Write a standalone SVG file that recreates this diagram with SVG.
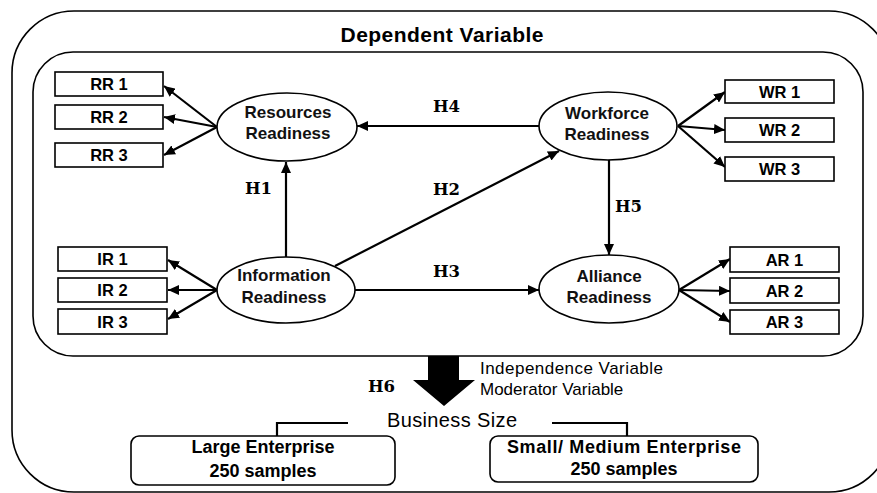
<svg xmlns="http://www.w3.org/2000/svg" width="877" height="493" viewBox="0 0 877 493">
<defs>
<marker id="ah" markerUnits="userSpaceOnUse" markerWidth="12" markerHeight="10" refX="11" refY="5" orient="auto">
<path d="M0,0 L11,5 L0,10 Z" fill="#000"/>
</marker>
<style>
.frame{fill:none;stroke:#000;stroke-width:1.6}
.box{fill:#fff;stroke:#000;stroke-width:1.6}
.ell{fill:#fff;stroke:#000;stroke-width:1.6}
.con{stroke:#000;stroke-width:2.2;fill:none}
.arr{marker-end:url(#ah)}
.bt{font-family:"Liberation Sans",Arial,sans-serif;font-weight:bold;font-size:16.5px;fill:#000;text-anchor:middle}
.et{font-family:"Liberation Sans",Arial,sans-serif;font-weight:bold;font-size:17px;fill:#111;text-anchor:middle}
.h{font-family:"DejaVu Serif",serif;font-weight:bold;font-size:16.5px;fill:#000}
.rt{font-family:"Liberation Sans",Arial,sans-serif;font-size:17px;fill:#000}
.lt{font-family:"Liberation Sans",Arial,sans-serif;font-weight:bold;font-size:18px;fill:#000;text-anchor:middle}
</style>
</defs>
<rect class="frame" x="12" y="11" width="879" height="481" rx="62"/>
<rect class="frame" x="33" y="52" width="830" height="304" rx="40"/>
<text x="442" y="42" font-family="Liberation Sans,Arial,sans-serif" font-weight="bold" font-size="21" text-anchor="middle" textLength="203">Dependent Variable</text>

<g id="connectors">
<line class="con arr" x1="217" y1="127" x2="164" y2="86"/>
<line class="con arr" x1="217" y1="127" x2="164" y2="117"/>
<line class="con arr" x1="217" y1="127" x2="164" y2="155"/>
<line class="con arr" x1="217" y1="290" x2="168" y2="260"/>
<line class="con arr" x1="217" y1="290" x2="168" y2="290"/>
<line class="con arr" x1="217" y1="290" x2="168" y2="319"/>
<line class="con arr" x1="678" y1="126" x2="725" y2="92"/>
<line class="con arr" x1="678" y1="126" x2="725" y2="130"/>
<line class="con arr" x1="678" y1="126" x2="725" y2="167"/>
<line class="con arr" x1="679" y1="290" x2="730" y2="259"/>
<line class="con arr" x1="679" y1="290" x2="730" y2="291"/>
<line class="con arr" x1="679" y1="290" x2="730" y2="322"/>
<line class="con arr" x1="539" y1="126" x2="357" y2="126"/>
<line class="con arr" x1="286" y1="257" x2="286" y2="162"/>
<line class="con arr" x1="335" y1="266" x2="559" y2="151"/>
<line class="con arr" x1="355" y1="290" x2="539" y2="290"/>
<line class="con arr" x1="609" y1="159" x2="609" y2="255"/>
<polygon points="428,356 459,356 459,380 475,380 444,406 413,380 428,380" fill="#000"/>
<polyline class="con" points="348,423 277,423 277,436"/>
<polyline class="con" points="552,423 627,423 627,436"/>
</g>

<g id="rr1"><rect class="box" x="55" y="72" width="108" height="24"/><text class="bt" x="109" y="90">RR 1</text></g>
<g id="rr2"><rect class="box" x="55" y="105" width="108" height="24"/><text class="bt" x="109" y="123">RR 2</text></g>
<g id="rr3"><rect class="box" x="55" y="143" width="108" height="24"/><text class="bt" x="109" y="161">RR 3</text></g>

<g id="ir1"><rect class="box" x="58" y="247" width="109" height="24"/><text class="bt" x="112.5" y="265">IR 1</text></g>
<g id="ir2"><rect class="box" x="58" y="278" width="109" height="24"/><text class="bt" x="112.5" y="296">IR 2</text></g>
<g id="ir3"><rect class="box" x="58" y="309" width="109" height="25"/><text class="bt" x="112.5" y="327.5">IR 3</text></g>

<g id="wr1"><rect class="box" x="725" y="80" width="109" height="23"/><text class="bt" x="779.5" y="97.5">WR 1</text></g>
<g id="wr2"><rect class="box" x="725" y="118" width="109" height="24"/><text class="bt" x="779.5" y="136">WR 2</text></g>
<g id="wr3"><rect class="box" x="725" y="157" width="109" height="24"/><text class="bt" x="779.5" y="175">WR 3</text></g>

<g id="ar1"><rect class="box" x="730" y="247" width="109" height="25"/><text class="bt" x="784.5" y="265.5">AR 1</text></g>
<g id="ar2"><rect class="box" x="730" y="278" width="109" height="25"/><text class="bt" x="784.5" y="296.5">AR 2</text></g>
<g id="ar3"><rect class="box" x="730" y="310" width="109" height="24"/><text class="bt" x="784.5" y="328">AR 3</text></g>

<g id="resources"><ellipse class="ell" cx="287" cy="127" rx="70" ry="34"/><text class="et" x="288" y="118">Resources</text><text class="et" x="288" y="139">Readiness</text></g>
<g id="workforce"><ellipse class="ell" cx="608" cy="126" rx="69" ry="34"/><text class="et" x="607" y="119">Workforce</text><text class="et" x="607" y="140">Readiness</text></g>
<g id="information"><ellipse class="ell" cx="286" cy="290" rx="69" ry="33"/><text class="et" x="284" y="281">Information</text><text class="et" x="284" y="303">Readiness</text></g>
<g id="alliance"><ellipse class="ell" cx="609" cy="289" rx="70" ry="34"/><text class="et" x="609" y="282">Alliance</text><text class="et" x="609" y="303">Readiness</text></g>

<g id="labels">
<text class="h" x="245" y="194">H1</text>
<text class="h" x="433" y="112">H4</text>
<text class="h" x="433" y="195">H2</text>
<text class="h" x="433" y="277">H3</text>
<text class="h" x="615" y="212">H5</text>
<text class="h" x="368" y="392">H6</text>
<text class="rt" x="480" y="374" textLength="183">Independence Variable</text>
<text class="rt" x="480" y="395">Moderator Variable</text>
<text class="rt" x="387" y="427" style="font-size:20px" textLength="130">Business Size</text>
</g>

<g id="large"><rect class="box" x="131" y="436" width="264" height="49" rx="8"/><text class="lt" x="263" y="453">Large Enterprise</text><text class="lt" x="263" y="477">250 samples</text></g>
<g id="small"><rect class="box" x="490" y="436" width="268" height="46" rx="8"/><text class="lt" x="624" y="453" textLength="234">Small/ Medium Enterprise</text><text class="lt" x="624" y="475">250 samples</text></g>
</svg>
